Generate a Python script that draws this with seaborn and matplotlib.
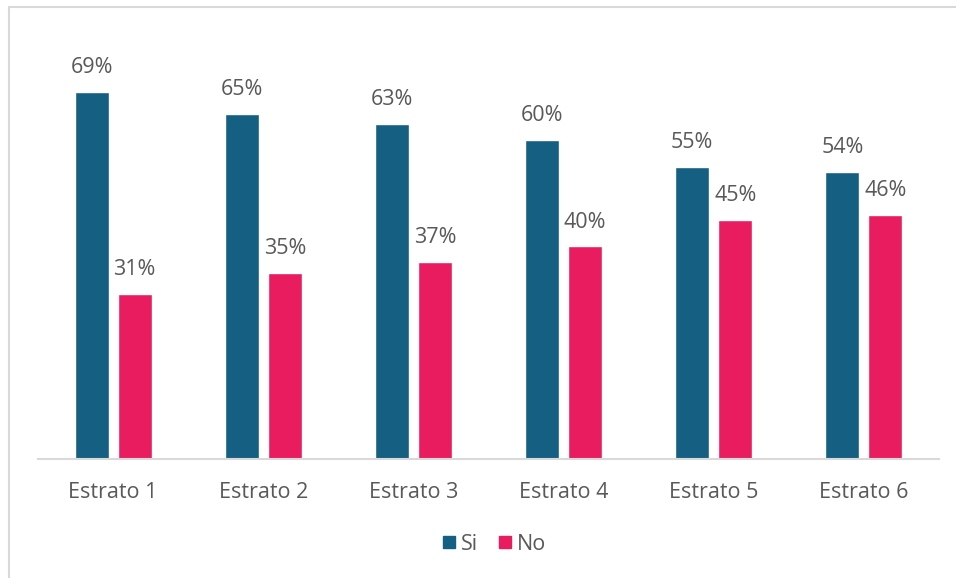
import matplotlib
matplotlib.use("Agg")
import matplotlib.pyplot as plt
import seaborn as sns
import pandas as pd
from matplotlib.patches import Rectangle
from matplotlib.lines import Line2D

categories = ["Estrato 1", "Estrato 2", "Estrato 3", "Estrato 4", "Estrato 5", "Estrato 6"]
si_values = [69, 65, 63, 60, 55, 54]
no_values = [31, 35, 37, 40, 45, 46]
series = ["Si", "No"]
colors = ["#155F82", "#E81C5F"]

df = pd.DataFrame({
    "cat": categories * 2,
    "serie": ["Si"] * len(categories) + ["No"] * len(categories),
    "val": si_values + no_values,
})

sns.set_theme(style="white")
plt.rcParams["font.family"] = ["Open Sans", "DejaVu Sans"]
txt = "#595959"
fs = 15.5

W, H = 956, 578
fig = plt.figure(figsize=(W / 100, H / 100), dpi=100)
ax = fig.add_axes([38 / W, 1 - 459 / H, (939 - 38) / W, (459 - 37) / H])

sns.barplot(data=df, x="cat", y="val", hue="serie", hue_order=series,
            palette=colors, width=0.573, gap=0.21, ax=ax, legend=False,
            saturation=1)

for cont in ax.containers:
    ax.bar_label(cont, fmt="%d%%", padding=10, fontsize=fs, color=txt)

ax.set_ylim(0, 79.4)
ax.set_xlim(-0.5, 5.5)
ax.set_xlabel("")
ax.set_ylabel("")
ax.set_yticks([])
for s in ["top", "left", "right"]:
    ax.spines[s].set_visible(False)
ax.spines["bottom"].set_color("#d9d9d9")
ax.spines["bottom"].set_linewidth(1.5)
ax.tick_params(axis="x", length=0, pad=16.5, labelsize=fs, labelcolor=txt)

# Legend
handles = [Line2D([0], [0], marker="s", linestyle="none", markersize=9,
                  markerfacecolor=c, markeredgecolor=c) for c in colors]
fig.legend(handles, series, loc="center", bbox_to_anchor=(493 / W, 1 - 544 / H),
           ncol=2, frameon=False, fontsize=fs, labelcolor=txt,
           handletextpad=0.1, columnspacing=0.8, handlelength=0.9)

# Chart frame
fig.patches.append(Rectangle((8.5 / W, -0.1), 1.2, 1 - 6.5 / H + 0.1,
                             transform=fig.transFigure, fill=False,
                             edgecolor="#d9d9d9", linewidth=1.5))

fig.savefig("out.png", dpi=100)
